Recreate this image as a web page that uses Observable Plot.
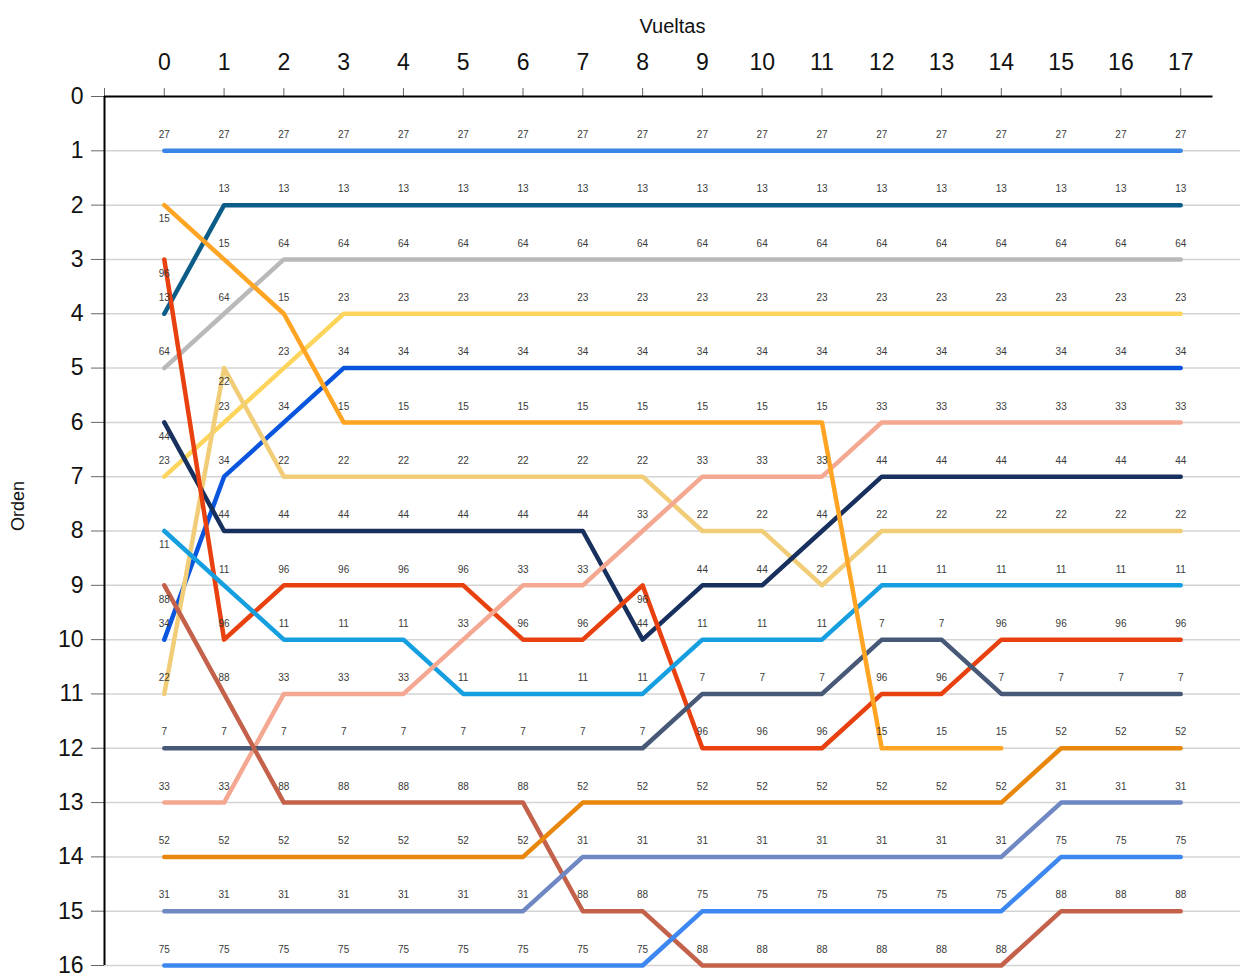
<!DOCTYPE html>
<html>
<head>
<meta charset="utf-8">
<script src="https://cdn.jsdelivr.net/npm/d3@7"></script>
<script src="https://cdn.jsdelivr.net/npm/@observablehq/plot@0.6"></script>
<style>
  html, body { margin: 0; padding: 0; background: #fff; }
  svg { display: block; font-family: "Liberation Sans", Arial, sans-serif; }
</style>
</head>
<body>
<div id="chart"></div>
<script>
// Laps (x categories) and positions (y ticks)
const laps = [0,1,2,3,4,5,6,7,8,9,10,11,12,13,14,15,16,17];
const positions = [0,1,2,3,4,5,6,7,8,9,10,11,12,13,14,15,16];

// Car numbers, drawing order
const cars = ["27","13","64","23","34","22","44","96","11","33","7","88","52","31","75","15"];

// Position of each car per lap (lap 0 .. lap 17)
const pos27 = [1,1,1,1,1,1,1,1,1,1,1,1,1,1,1,1,1,1];
const pos13 = [4,2,2,2,2,2,2,2,2,2,2,2,2,2,2,2,2,2];
const pos64 = [5,4,3,3,3,3,3,3,3,3,3,3,3,3,3,3,3,3];
const pos23 = [7,6,5,4,4,4,4,4,4,4,4,4,4,4,4,4,4,4];
const pos34 = [10,7,6,5,5,5,5,5,5,5,5,5,5,5,5,5,5,5];
const pos15 = [2,3,4,6,6,6,6,6,6,6,6,6,12,12,12];
const pos22 = [11,5,7,7,7,7,7,7,7,8,8,9,8,8,8,8,8,8];
const pos44 = [6,8,8,8,8,8,8,8,10,9,9,8,7,7,7,7,7,7];
const pos96 = [3,10,9,9,9,9,10,10,9,12,12,12,11,11,10,10,10,10];
const pos11 = [8,9,10,10,10,11,11,11,11,10,10,10,9,9,9,9,9,9];
const pos33 = [13,13,11,11,11,10,9,9,8,7,7,7,6,6,6,6,6,6];
const pos7  = [12,12,12,12,12,12,12,12,12,11,11,11,10,10,11,11,11,11];
const pos88 = [9,11,13,13,13,13,13,15,15,16,16,16,16,16,16,15,15,15];
const pos52 = [14,14,14,14,14,14,14,13,13,13,13,13,13,13,13,12,12,12];
const pos31 = [15,15,15,15,15,15,15,14,14,14,14,14,14,14,14,13,13,13];
const pos75 = [16,16,16,16,16,16,16,16,16,15,15,15,15,15,15,14,14,14];

const colors = ["#3a86e6","#0b5d88","#b9b9b9","#fdd55c","#0a55de","#f2cd78","#17305d","#e8400e","#159fe0","#f4a892","#475977","#c4614b","#e8870c","#6f87c2","#3c88f0","#ffa523"];

const series = {"27":pos27,"13":pos13,"64":pos64,"23":pos23,"34":pos34,"15":pos15,"22":pos22,"44":pos44,"96":pos96,"11":pos11,"33":pos33,"7":pos7,"88":pos88,"52":pos52,"31":pos31,"75":pos75};

const rows = [];
for (const car of cars) {
  const p = series[car];
  p.forEach((v, i) => {
    const prev = i > 0 ? p[i-1] : undefined;
    const next = i < p.length - 1 ? p[i+1] : undefined;
    const below = next !== undefined && next > v && (prev === undefined || prev > v);
    rows.push({car, lap: laps[i], pos: v, below});
  });
}

const font = "Liberation Sans, Arial, sans-serif";

const chart = Plot.plot({
  width: 1251,
  height: 979,
  marginLeft: 104,
  marginRight: 11,
  marginTop: 96,
  marginBottom: 14,
  style: {fontFamily: font, background: "#fff"},
  x: {domain: [-1, 18]},
  y: {domain: [0, 16], reverse: true},
  color: {domain: cars, range: colors},
  marks: [
    Plot.ruleY(positions.slice(1), {x1: -1, x2: 18, stroke: "#d4d4d4", strokeWidth: 1.5}),
    Plot.line(rows, {x: "lap", y: "pos", z: "car", stroke: "car", strokeWidth: 4.5, strokeLinecap: "round", strokeLinejoin: "round"}),
    Plot.text(rows.filter(d => !d.below), {x: "lap", y: "pos", text: "car", dy: -16, fontSize: 10, fill: "#3a3a3a"}),
    Plot.text(rows.filter(d => d.below), {x: "lap", y: "pos", text: "car", dy: 14, fontSize: 10, fill: "#3a3a3a"}),
    Plot.axisX([-1, ...laps], {anchor: "top", tickSize: 9, tickPadding: 18, fontSize: 23, stroke: "#666", fill: "#111", tickFormat: d => d < 0 ? "" : String(d), label: null}),
    Plot.axisY(positions, {anchor: "left", tickSize: 13, tickPadding: 8, fontSize: 23, stroke: "#666", fill: "#111", tickFormat: d => String(d), label: null}),
    Plot.ruleY([0], {x1: -1, x2: 17.54, stroke: "#000", strokeWidth: 2}),
    Plot.ruleX([-1], {y1: 0, y2: 16, stroke: "#000", strokeWidth: 2}),
    Plot.text(["Vueltas"], {frameAnchor: "top", dy: -78, fontSize: 20, fill: "#111"}),
    Plot.text(["Orden"], {frameAnchor: "left", dx: -86, rotate: -90, fontSize: 18, fill: "#111"})
  ]
});

document.getElementById("chart").appendChild(chart);
</script>
</body>
</html>
